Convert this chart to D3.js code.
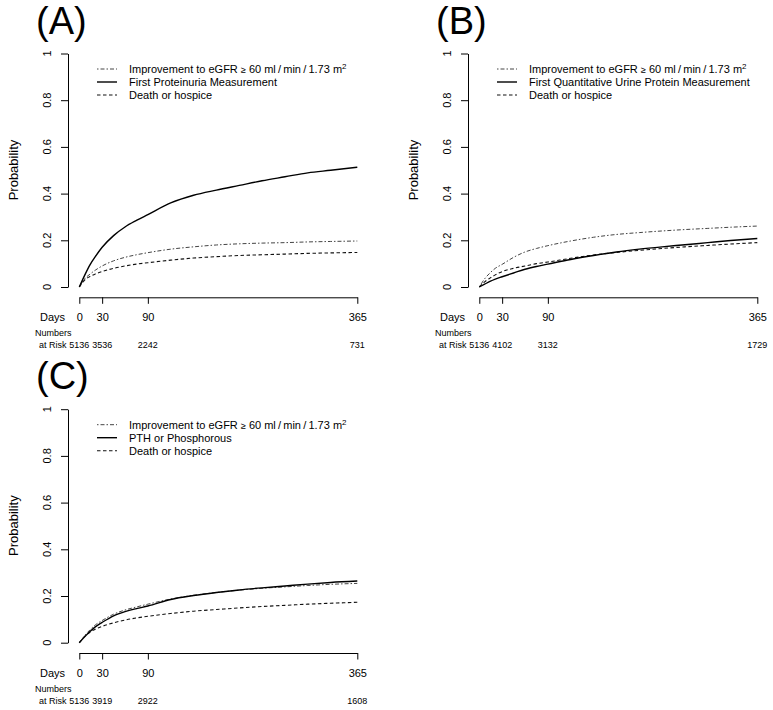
<!DOCTYPE html>
<html>
<head>
<meta charset="utf-8">
<script src="https://cdn.jsdelivr.net/npm/d3@7"></script>
<style>
  body { margin: 0; background: #fff; }
  svg text { font-family: "Liberation Sans", Arial, Helvetica, sans-serif; fill: #000; }
</style>
</head>
<body>
<div id="root"></div>
<script>
// days at which the cumulative incidence curves were read
const days = [0, 7, 14, 21, 30, 45, 60, 75, 90, 120, 150, 180, 210, 240, 270, 300, 330, 365];
const xTicks = [0, 30, 90, 365];
const yTicks = [0, 0.2, 0.4, 0.6, 0.8, 1];

const panelLabels = ["(A)", "(B)", "(C)"];
const outcomeLabels = ["First Proteinuria Measurement", "First Quantitative Urine Protein Measurement", "PTH or Phosphorous"];
const deathLabel = "Death or hospice";

// panel A
const improveA = [0, 0.035, 0.055, 0.072, 0.09, 0.112, 0.127, 0.138, 0.147, 0.162, 0.172, 0.18, 0.185, 0.188, 0.19, 0.193, 0.195, 0.197];
const outcomeA = [0, 0.05, 0.095, 0.13, 0.17, 0.22, 0.257, 0.285, 0.31, 0.36, 0.393, 0.415, 0.435, 0.455, 0.472, 0.489, 0.5, 0.513];
const deathA = [0, 0.03, 0.045, 0.056, 0.066, 0.08, 0.09, 0.098, 0.104, 0.115, 0.124, 0.13, 0.135, 0.138, 0.141, 0.144, 0.146, 0.148];
const atRiskA = [5136, 3536, 2242, 731];

// panel B
const improveB = [0, 0.035, 0.06, 0.08, 0.097, 0.127, 0.15, 0.165, 0.177, 0.197, 0.213, 0.225, 0.233, 0.24, 0.246, 0.251, 0.256, 0.261];
const outcomeB = [0, 0.012, 0.024, 0.034, 0.044, 0.06, 0.076, 0.088, 0.098, 0.118, 0.135, 0.15, 0.162, 0.172, 0.181, 0.19, 0.199, 0.208];
const deathB = [0, 0.022, 0.038, 0.052, 0.066, 0.08, 0.09, 0.1, 0.107, 0.123, 0.137, 0.148, 0.157, 0.165, 0.172, 0.178, 0.184, 0.19];
const atRiskB = [5136, 4102, 3132, 1729];

// panel C
const improveC = [0, 0.03, 0.055, 0.076, 0.095, 0.122, 0.14, 0.153, 0.165, 0.187, 0.203, 0.215, 0.225, 0.233, 0.239, 0.245, 0.25, 0.254];
const outcomeC = [0, 0.025, 0.048, 0.068, 0.087, 0.115, 0.133, 0.146, 0.157, 0.185, 0.202, 0.215, 0.226, 0.235, 0.243, 0.251, 0.258, 0.264];
const deathC = [0, 0.027, 0.045, 0.058, 0.07, 0.085, 0.097, 0.106, 0.113, 0.125, 0.135, 0.142, 0.149, 0.155, 0.16, 0.165, 0.169, 0.173];
const atRiskC = [5136, 3919, 2922, 1608];

const panels = [
    { label: panelLabels[0], outcome: outcomeLabels[0], improve: improveA, main: outcomeA, death: deathA, atRisk: atRiskA, dx: 0, dy: 0 },
    { label: panelLabels[1], outcome: outcomeLabels[1], improve: improveB, main: outcomeB, death: deathB, atRisk: atRiskB, dx: 400, dy: 0 },
    { label: panelLabels[2], outcome: outcomeLabels[2], improve: improveC, main: outcomeC, death: deathC, atRisk: atRiskC, dx: 0, dy: 355.7 }
];

const styles = {
    improve: { dash: "1.5,2,4,2", width: 1, color: "#444" },
    main: { dash: null, width: 1.4, color: "#000" },
    death: { dash: "3.5,2.5", width: 1.1, color: "#111" }
};

const svg = d3.select("#root")
    .append("svg")
    .attr("width", 773)
    .attr("height", 710);

let scaleX = d3.scaleLinear().domain([0, 365]).range([79.3, 357.3]);
let scaleY = d3.scaleLinear().domain([0, 1]).range([287, 53.5]);
const fmt = d3.format("~g");

const line = d3.line()
    .x((d, i) => scaleX(days[i]))
    .y(d => scaleY(d))
    .curve(d3.curveMonotoneX);

function drawPanel(p) {
    let g = svg.append("g").attr("transform", `translate(${p.dx}, ${p.dy})`);

    g.append("text")
        .attr("x", 36)
        .attr("y", 33.5)
        .style("font-size", "38px")
        .text(p.label);

    // y axis, R style: labels parallel to the axis
    let yAxis = d3.axisLeft(scaleY).tickValues(yTicks).tickSize(7).tickSizeOuter(0).tickFormat("");
    g.append("g").attr("transform", "translate(68, 0)").call(yAxis);
    g.selectAll(".ylab")
        .data(yTicks)
        .enter().append("text")
        .attr("class", "ylab")
        .attr("transform", d => `translate(47, ${scaleY(d)}) rotate(-90)`)
        .attr("dy", "0.35em")
        .style("text-anchor", "middle")
        .style("font-size", "11px")
        .text(d => fmt(d));

    let xAxis = d3.axisBottom(scaleX).tickValues(xTicks).tickSize(6.5).tickSizeOuter(0);
    let xa = g.append("g").attr("transform", "translate(0, 297.3)").call(xAxis);
    xa.selectAll("text")
        .attr("y", 20)
        .attr("dy", "0.35em")
        .style("font-size", "11px")
        .style("font-family", "'Liberation Sans', Arial, sans-serif");

    g.selectAll(".domain, .tick line").attr("stroke", "#000").attr("stroke-width", 1);

    g.append("text")
        .attr("x", 65)
        .attr("y", 317.3)
        .attr("dy", "0.35em")
        .style("text-anchor", "end")
        .style("font-size", "11px")
        .text("Days");

    g.append("text")
        .attr("transform", "translate(13, 170) rotate(-90)")
        .attr("dy", "0.35em")
        .style("text-anchor", "middle")
        .style("font-size", "13px")
        .text("Probability");

    // numbers at risk
    g.append("text")
        .attr("x", 35)
        .attr("y", 333)
        .attr("dy", "0.35em")
        .style("font-size", "9px")
        .text("Numbers");
    g.append("text")
        .attr("x", 39)
        .attr("y", 345)
        .attr("dy", "0.35em")
        .style("font-size", "9px")
        .text("at Risk");
    g.selectAll(".risk")
        .data(p.atRisk)
        .enter().append("text")
        .attr("class", "risk")
        .attr("x", (d, i) => scaleX(xTicks[i]))
        .attr("y", 345)
        .attr("dy", "0.35em")
        .style("text-anchor", "middle")
        .style("font-size", "9px")
        .text(d => d);

    // curves
    ["death", "improve", "main"].forEach(key => {
        let s = styles[key];
        g.append("path")
            .datum(p[key])
            .attr("d", line)
            .attr("fill", "none")
            .attr("stroke", s.color)
            .attr("stroke-width", s.width)
            .attr("stroke-dasharray", s.dash);
    });

    // legend
    let rows = [
        { key: "improve", text: null },
        { key: "main", text: p.outcome },
        { key: "death", text: deathLabel }
    ];
    rows.forEach((r, i) => {
        let y0 = 69 + i * 13;
        let s = styles[r.key];
        g.append("line")
            .attr("x1", 97).attr("x2", 117)
            .attr("y1", y0).attr("y2", y0)
            .attr("stroke", s.color)
            .attr("stroke-width", s.width)
            .attr("stroke-dasharray", s.dash);
        let t = g.append("text")
            .attr("x", 129)
            .attr("y", y0)
            .attr("dy", "0.35em")
            .style("font-size", "11px");
        if (r.text) {
            t.text(r.text);
        } else {
            t.append("tspan").text("Improvement to eGFR ");
            t.append("tspan").style("font-size", "9px").text("\u2265");
            t.append("tspan").text(" 60 ml\u2009/\u2009min\u2009/\u20091.73 m");
            t.append("tspan").attr("dy", "-0.45em").style("font-size", "8px").text("2");
        }
    });
}

panels.forEach(drawPanel);
</script>
</body>
</html>
